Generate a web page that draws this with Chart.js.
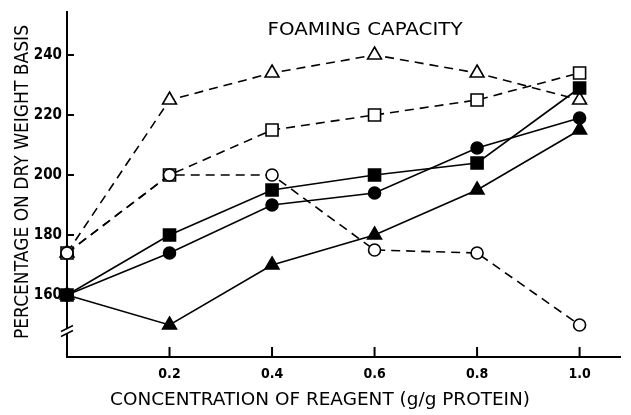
<!DOCTYPE html>
<html>
<head>
<meta charset="utf-8">
<script src="https://cdn.jsdelivr.net/npm/chart.js@4/dist/chart.umd.min.js"></script>
<style>
  html, body { margin: 0; padding: 0; background: #fff; overflow: hidden; }
  canvas { display: block; }
</style>
</head>
<body>
<canvas id="chart" width="631" height="415"></canvas>
<script>
// concentration of reagent (g/g protein)
const concentrations = [0, 0.2, 0.4, 0.6, 0.8, 1.0];

// foaming capacity, % on dry weight basis
const filledCircle   = [160, 174, 190, 194, 209, 219];
const filledSquare   = [160, 180, 195, 200, 204, 229];
const filledTriangle = [160, 150, 170, 180, 195, 215];
const openCircle     = [174, 200, 200, 175, 174, 150];
const openSquare     = [174, 200, 215, 220, 225, 234];
const openTriangle   = [174, 225, 234, 240, 234, 225];

const xTicks = [0.2, 0.4, 0.6, 0.8, 1.0];
const yTicks = [160, 180, 200, 220, 240];
const yBreak = 148; // axis break mark

const toPoints = vals => vals.map((v, i) => ({ x: concentrations[i], y: v }));

function series(vals, style, filled, dashed, radius) {
    return {
        data: toPoints(vals),
        borderColor: '#000',
        borderWidth: 1.6,
        borderDash: dashed ? [9, 6] : [],
        pointStyle: style,
        pointRadius: radius,
        pointHoverRadius: radius,
        pointBackgroundColor: filled ? '#000' : '#fff',
        pointBorderColor: '#000',
        pointBorderWidth: 1.6,
        tension: 0,
        fill: false,
        clip: false
    };
}

// tick marks point inwards, plus the // break and the titles
const extras = {
    id: 'extras',
    afterDraw(chart) {
        const ctx = chart.ctx;
        const xs = chart.scales.x, ys = chart.scales.y;
        const left = chart.chartArea.left, bottom = chart.chartArea.bottom;
        ctx.save();
        ctx.strokeStyle = '#000';
        ctx.lineWidth = 2;
        yTicks.forEach(v => {
            const y = ys.getPixelForValue(v);
            ctx.beginPath(); ctx.moveTo(left, y); ctx.lineTo(left + 7, y); ctx.stroke();
        });
        xTicks.forEach(v => {
            const x = xs.getPixelForValue(v);
            ctx.beginPath(); ctx.moveTo(x, bottom); ctx.lineTo(x, bottom - 10); ctx.stroke();
        });
        // axis break
        const by = ys.getPixelForValue(yBreak);
        ctx.fillStyle = '#fff';
        ctx.fillRect(left - 2, by - 2, 4, 4);
        ctx.lineWidth = 1.5;
        [-2.5, 2.5].forEach(d => {
            ctx.beginPath();
            ctx.moveTo(left - 6, by + d + 3);
            ctx.lineTo(left + 6, by + d - 3);
            ctx.stroke();
        });

        ctx.fillStyle = '#000';
        ctx.textAlign = 'center';
        ctx.textBaseline = 'middle';
        fitText(ctx, 'FOAMING CAPACITY', 365, 30, 18, 195, 0);
        fitText(ctx, 'CONCENTRATION OF REAGENT (g/g PROTEIN)', 320, 400, 18, 420, 0);
        fitText(ctx, 'PERCENTAGE ON DRY WEIGHT BASIS', 23, 182, 20, 314, -Math.PI / 2);
        ctx.restore();
    }
};

function fitText(ctx, text, cx, cy, size, width, rot) {
    ctx.save();
    ctx.font = size + 'px "DejaVu Sans"';
    const w = ctx.measureText(text).width;
    ctx.translate(cx, cy);
    ctx.rotate(rot);
    ctx.scale(width / w, 1);
    ctx.fillText(text, 0, 0);
    ctx.restore();
}

new Chart(document.getElementById('chart'), {
    type: 'line',
    data: {
        datasets: [
            series(filledCircle, 'circle', true, false, 6),
            series(filledSquare, 'rect', true, false, 8.5),
            series(filledTriangle, 'triangle', true, false, 8),
            series(openCircle, 'circle', false, true, 6),
            series(openSquare, 'rect', false, true, 8.5),
            series(openTriangle, 'triangle', false, true, 8)
        ]
    },
    options: {
        responsive: false,
        animation: false,
        layout: { padding: { top: 12, right: 1, left: 0, bottom: 0 } },
        plugins: { legend: { display: false }, tooltip: { enabled: false }, title: { display: false } },
        scales: {
            x: {
                type: 'linear',
                min: 0,
                max: 1.0806,
                afterBuildTicks: s => { s.ticks = xTicks.map(v => ({ value: v })); },
                afterFit: s => { s.height = 58; s.paddingLeft = 0; s.paddingRight = 0; },
                ticks: {
                    callback: v => v.toFixed(1),
                    color: '#000',
                    padding: 9,
                    maxRotation: 0,
                    font: { family: 'DejaVu Sans Condensed', size: 14, weight: 'bold' }
                },
                grid: { display: false, drawTicks: false },
                border: { display: true, color: '#000', width: 2 }
            },
            y: {
                min: 139.33,
                max: 254.33,
                afterBuildTicks: s => { s.ticks = yTicks.map(v => ({ value: v })); },
                afterFit: s => { s.width = 67; s.paddingTop = 0; s.paddingBottom = 0; },
                ticks: {
                    color: '#000',
                    padding: 5,
                    font: { family: 'DejaVu Sans Condensed', size: 15, weight: 'bold' }
                },
                grid: { display: false, drawTicks: false },
                border: { display: true, color: '#000', width: 2 }
            }
        }
    },
    plugins: [extras]
});
</script>
</body>
</html>
